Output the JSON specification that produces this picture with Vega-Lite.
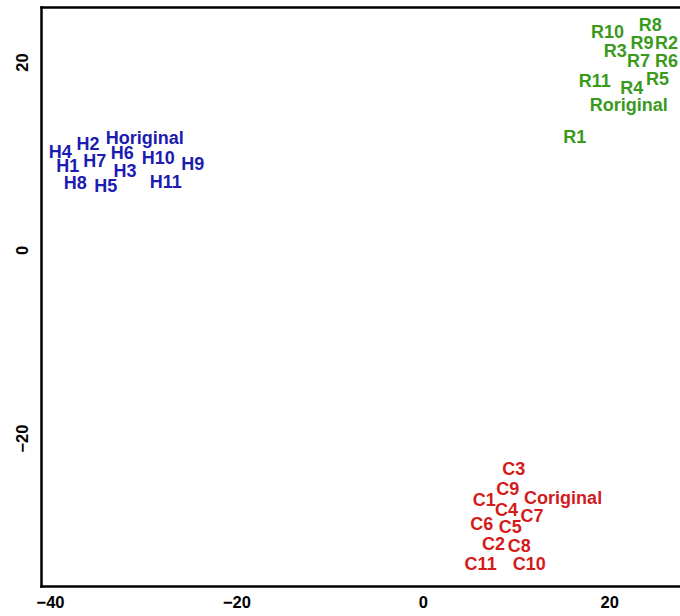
{
  "$schema": "https://vega.github.io/schema/vega-lite/v6.json",
  "autosize": "none",
  "width": 639,
  "height": 579,
  "padding": {"left": 41, "top": 7, "right": 0, "bottom": 30},
  "background": "white",
  "config": {
    "view": {"stroke": null},
    "font": "Liberation Sans"
  },
  "datasets": {
    "pts": [
      {"label": "Horiginal", "x": -29.83, "y": 12.02, "group": "H"},
      {"label": "H4", "x": -38.9, "y": 10.53, "group": "H"},
      {"label": "H2", "x": -35.94, "y": 11.38, "group": "H"},
      {"label": "H1", "x": -38.09, "y": 8.94, "group": "H"},
      {"label": "H7", "x": -35.19, "y": 9.57, "group": "H"},
      {"label": "H6", "x": -32.24, "y": 10.32, "group": "H"},
      {"label": "H10", "x": -28.38, "y": 9.89, "group": "H"},
      {"label": "H9", "x": -24.68, "y": 9.15, "group": "H"},
      {"label": "H3", "x": -31.97, "y": 8.51, "group": "H"},
      {"label": "H8", "x": -37.29, "y": 7.13, "group": "H"},
      {"label": "H5", "x": -34.01, "y": 6.81, "group": "H"},
      {"label": "H11", "x": -27.58, "y": 7.34, "group": "H"},
      {"label": "R10", "x": 19.8, "y": 23.22, "group": "R"},
      {"label": "R8", "x": 24.41, "y": 23.94, "group": "R"},
      {"label": "R9", "x": 23.5, "y": 22.05, "group": "R"},
      {"label": "R2", "x": 26.15, "y": 22.05, "group": "R"},
      {"label": "R3", "x": 20.63, "y": 21.24, "group": "R"},
      {"label": "R7", "x": 23.14, "y": 20.21, "group": "R"},
      {"label": "R6", "x": 26.15, "y": 20.21, "group": "R"},
      {"label": "R11", "x": 18.45, "y": 18.05, "group": "R"},
      {"label": "R4", "x": 22.42, "y": 17.34, "group": "R"},
      {"label": "R5", "x": 25.18, "y": 18.22, "group": "R"},
      {"label": "Roriginal", "x": 22.1, "y": 15.43, "group": "R"},
      {"label": "R1", "x": 16.31, "y": 12.05, "group": "R"}
    ],
    "cpts": [
      {"label": "C3", "x": 9.74, "y": -23.28, "group": "C"},
      {"label": "C9", "x": 9.12, "y": -25.32, "group": "C"},
      {"label": "C1", "x": 6.6, "y": -26.56, "group": "C"},
      {"label": "Coriginal", "x": 15.05, "y": -26.33, "group": "C"},
      {"label": "C4", "x": 8.98, "y": -27.63, "group": "C"},
      {"label": "C7", "x": 11.7, "y": -28.24, "group": "C"},
      {"label": "C6", "x": 6.31, "y": -29.07, "group": "C"},
      {"label": "C5", "x": 9.39, "y": -29.39, "group": "C"},
      {"label": "C2", "x": 7.59, "y": -31.17, "group": "C"},
      {"label": "C8", "x": 10.35, "y": -31.47, "group": "C"},
      {"label": "C11", "x": 6.2, "y": -33.3, "group": "C"},
      {"label": "C10", "x": 11.41, "y": -33.3, "group": "C"}
    ]
  },
  "layer": [
    {
      "data": {"name": "pts"},
      "mark": {"type": "text", "fontSize": 18, "fontWeight": "bold", "align": "center", "baseline": "middle", "dy": 1.5},
      "encoding": {
        "x": {
          "field": "x", "type": "quantitative",
          "scale": {"domain": [-40.97, 27.59], "nice": false, "zero": false},
          "axis": {
            "orient": "bottom", "title": null, "values": [-40, -20, 0, 20],
            "grid": false, "ticks": false, "tickSize": 0,
            "domain": true, "domainColor": "black", "domainWidth": 2.5, "domainCap": "square",
            "labelFont": "Liberation Sans", "labelFontSize": 16.5, "labelFontWeight": "bold",
            "labelColor": "black", "labelPadding": 8, "labelFlush": false
          }
        },
        "y": {
          "field": "y", "type": "quantitative",
          "scale": {"domain": [-35.74, 25.85], "nice": false, "zero": false},
          "axis": {
            "title": null, "values": [-20, 0, 20],
            "grid": false, "ticks": false, "tickSize": 0,
            "domain": true, "domainColor": "black", "domainWidth": 2.5, "domainCap": "square",
            "labelFont": "Liberation Sans", "labelFontSize": 16.5, "labelFontWeight": "bold",
            "labelColor": "black", "labelPadding": 11, "labelAngle": -90, "labelFlush": false
          }
        },
        "text": {"field": "label"},
        "color": {
          "field": "group", "type": "nominal",
          "scale": {"domain": ["H", "R", "C"], "range": ["#1c1cb0", "#3a9a1c", "#d41a1a"]},
          "legend": null
        }
      }
    },
    {
      "data": {"name": "cpts"},
      "mark": {"type": "text", "fontSize": 18, "fontWeight": "bold", "align": "center", "baseline": "middle", "dy": 1.5},
      "encoding": {
        "x": {
          "field": "x", "type": "quantitative",
          "axis": {
            "orient": "top", "title": null, "labels": false,
            "grid": false, "ticks": false, "tickSize": 0,
            "domain": true, "domainColor": "black", "domainWidth": 2.5, "domainCap": "square"
          }
        },
        "y": {"field": "y", "type": "quantitative"},
        "text": {"field": "label"},
        "color": {
          "field": "group", "type": "nominal",
          "scale": {"domain": ["H", "R", "C"], "range": ["#1c1cb0", "#3a9a1c", "#d41a1a"]},
          "legend": null
        }
      }
    }
  ],
  "resolve": {"axis": {"x": "independent"}}
}
